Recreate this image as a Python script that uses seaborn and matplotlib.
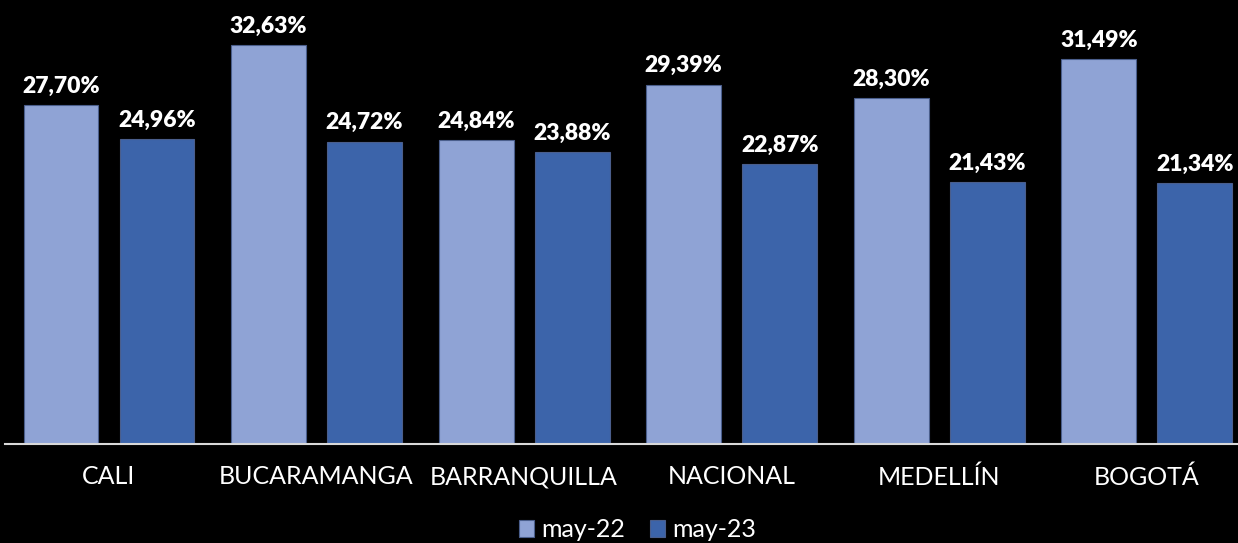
import pandas as pd
import matplotlib.pyplot as plt
import seaborn as sns

# Data
cities = ["CALI", "BUCARAMANGA", "BARRANQUILLA", "NACIONAL", "MEDELLÍN", "BOGOTÁ"]
may_22 = [27.70, 32.63, 24.84, 29.39, 28.30, 31.49]
may_23 = [24.96, 24.72, 23.88, 22.87, 21.43, 21.34]
periods = ["may-22", "may-23"]
colors = ["#8FA3D5", "#3C64AA"]

df = pd.DataFrame({
    "city": cities * 2,
    "period": [periods[0]] * len(cities) + [periods[1]] * len(cities),
    "value": may_22 + may_23,
})

sns.set_theme(style="dark")
plt.rcParams["font.family"] = ["Lato", "DejaVu Sans"]

fig = plt.figure(figsize=(12.38, 5.43), dpi=100, facecolor="black")
ax = fig.add_axes([0.0042, 0.182, 1.006, 0.818])
ax.set_facecolor("black")

sns.barplot(data=df, x="city", y="value", hue="period", palette=colors,
            width=0.925, gap=0.22, edgecolor="#4A5E8C", linewidth=0.8,
            saturation=1, ax=ax)

for cont in ax.containers:
    labels = [f"{v:.2f}%".replace(".", ",") for v in cont.datavalues]
    ax.bar_label(cont, labels=labels, padding=6, color="white",
                 fontsize=16.5, fontweight="heavy")

ax.set_ylim(0, 36.3)
ax.set_xlim(-0.5, 5.5)
ax.set_yticks([])
ax.set_xlabel("")
ax.set_ylabel("")
ax.tick_params(axis="x", colors="white", labelsize=18, pad=15, length=0)
for s in ["top", "right", "left"]:
    ax.spines[s].set_visible(False)
ax.spines["bottom"].set_color("#D9D9D9")
ax.spines["bottom"].set_linewidth(1.5)
ax.grid(False)

# legend below the axis, centred on the figure
ax.legend(loc="lower center", bbox_to_anchor=(0.515, -0.038),
          bbox_transform=fig.transFigure, ncol=2, frameon=False,
          fontsize=18, labelcolor="white", handlelength=0.6,
          handleheight=0.7, handletextpad=0.3, columnspacing=1.0)

fig.savefig("out.png", dpi=100, facecolor="black")
